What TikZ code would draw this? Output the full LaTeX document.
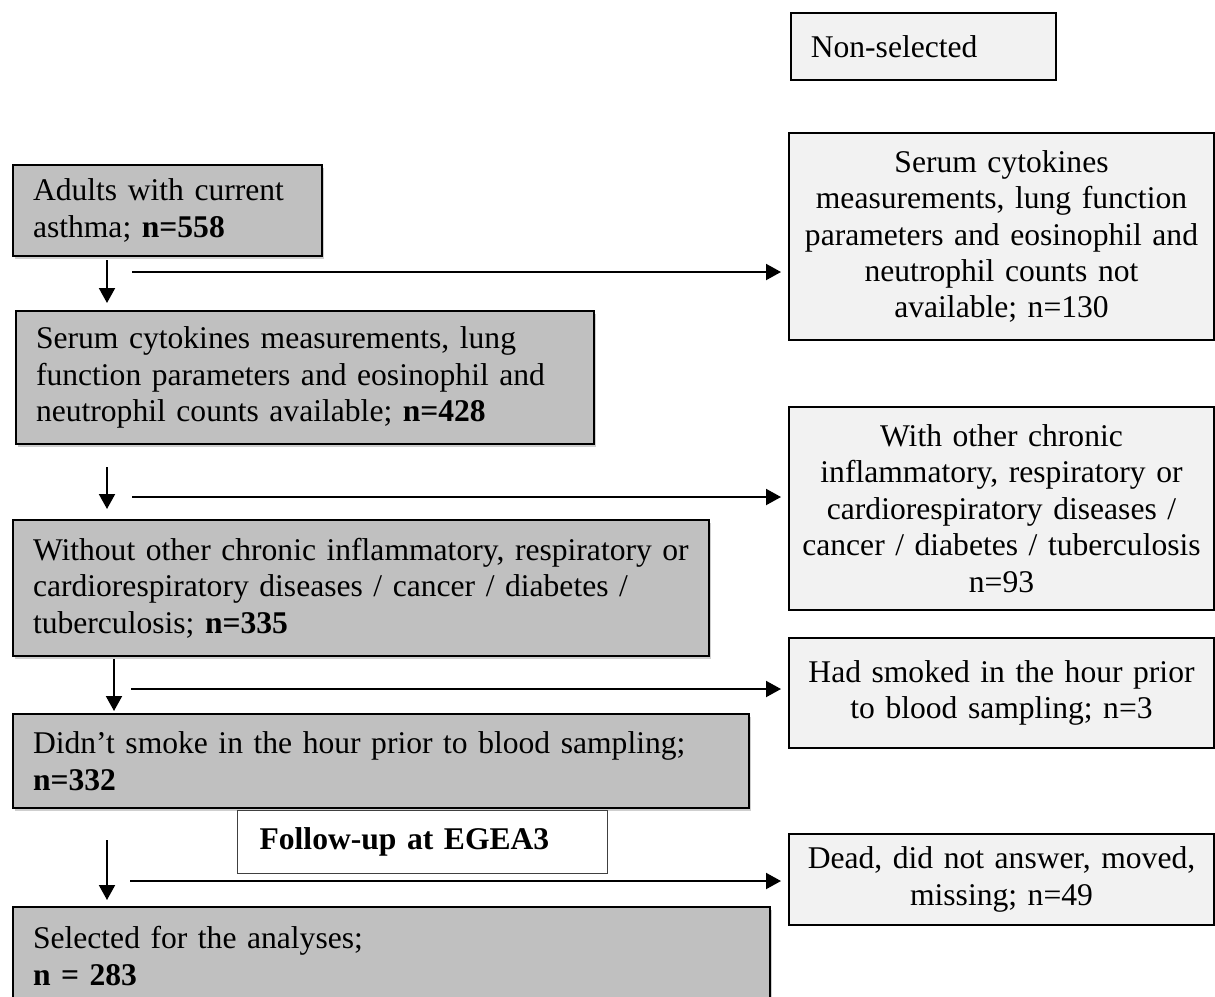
\documentclass[tikz,border=0pt]{standalone}
\usepackage{fontspec}
\setmainfont{Liberation Serif}
\usetikzlibrary{arrows.meta,shadows}
\definecolor{leftgray}{HTML}{C0C0C0}
\definecolor{rightgray}{HTML}{F2F2F2}
\definecolor{shadowgray}{HTML}{CFCFCF}
\definecolor{thinborder}{HTML}{404040}
\newcommand{\flowfont}{\fontsize{15.8pt}{18.2pt}\selectfont}
\tikzset{
  lbox/.style={draw, line width=1pt, fill=leftgray, align=left, inner xsep=10pt, inner ysep=0pt,
    anchor=north west, font=\flowfont,
    drop shadow={shadow xshift=1pt, shadow yshift=-1.5pt, fill=shadowgray, opacity=1}},
  rbox/.style={draw, line width=1pt, fill=rightgray, align=center, inner xsep=6pt, inner ysep=0pt,
    anchor=north west, font=\flowfont, text width=200pt, minimum width=212.5pt},
  fbox/.style={draw=thinborder, line width=0.6pt, fill=white, align=left, inner xsep=11pt, inner ysep=0pt,
    anchor=north west, font=\flowfont\bfseries},
  nsbox/.style={draw, line width=0.8pt, fill=rightgray, align=left, inner xsep=10pt, inner ysep=0pt,
    anchor=north west, font=\flowfont},
  arr/.style={line width=1pt, -{Triangle[length=7.5pt,width=8pt]}},
}
\begin{document}
\begin{tikzpicture}[x=0.5pt,y=-0.5pt]
\useasboundingbox (0,0) rectangle (1215,996);
\clip (0,0) rectangle (1215,996);
% left column
\node[lbox, text width=134.5pt, minimum height=45.5pt] (L1) at (12,164)
  {Adults with current\\asthma; \textbf{n=558}};
\node[lbox, text width=269pt, minimum height=66.5pt] (L2) at (15,310)
  {Serum cytokines measurements, lung\\function parameters and eosinophil and\\neutrophil counts available; \textbf{n=428}};
\node[lbox, text width=328pt, minimum height=68pt] (L3) at (12,519)
  {Without other chronic inflammatory, respiratory or\\cardiorespiratory diseases / cancer / diabetes /\\tuberculosis; \textbf{n=335}};
\node[lbox, text width=348pt, minimum height=47pt] (L4) at (12,713)
  {Didn’t smoke in the hour prior to blood sampling;\\\textbf{n=332}};
\node[fbox, text width=163pt, minimum height=31.5pt] (F) at (237,810)
  {Follow-up at EGEA3};
\node[lbox, text width=358.5pt, minimum height=49pt] (L5) at (12,906)
  {Selected for the analyses;\\\textbf{n = 283}};
% right column
\node[nsbox, text width=112.5pt, minimum height=33.5pt] (NS) at (790,12) {Non-selected};
\node[rbox, minimum height=103.5pt] (R1) at (788,132)
  {Serum cytokines\\measurements, lung function\\parameters and eosinophil and\\neutrophil counts not\\available; n=130};
\node[rbox, minimum height=101.5pt] (R2) at (788,406)
  {With other chronic\\inflammatory, respiratory or\\cardiorespiratory diseases /\\cancer / diabetes / tuberculosis\\n=93};
\node[rbox, minimum height=55pt] (R3) at (788,637)
  {Had smoked in the hour prior\\to blood sampling; n=3};
\node[rbox, minimum height=45.5pt] (R4) at (788,833)
  {Dead, did not answer, moved,\\missing; n=49};
% connector start points
\coordinate (v1) at (107,260);
\coordinate (v2) at (107,467);
\coordinate (v3) at (114,659);
\coordinate (v4) at (107,840);
\coordinate (h1) at (132,272);
\coordinate (h2) at (132,497);
\coordinate (h3) at (131,689);
\coordinate (h4) at (130,881);
% vertical arrows
\draw[arr, shorten >=3.5pt] (v1) -- (v1 |- L2.north);
\draw[arr, shorten >=5pt] (v2) -- (v2 |- L3.north);
\draw[arr, shorten >=1pt] (v3) -- (v3 |- L4.north);
\draw[arr, shorten >=3pt] (v4) -- (v4 |- L5.north);
% horizontal arrows
\draw[arr, shorten >=3.5pt] (h1) -- (h1 -| R1.west);
\draw[arr, shorten >=3.5pt] (h2) -- (h2 -| R2.west);
\draw[arr, shorten >=3.5pt] (h3) -- (h3 -| R3.west);
\draw[arr, shorten >=3.5pt] (h4) -- (h4 -| R4.west);
\end{tikzpicture}
\end{document}
